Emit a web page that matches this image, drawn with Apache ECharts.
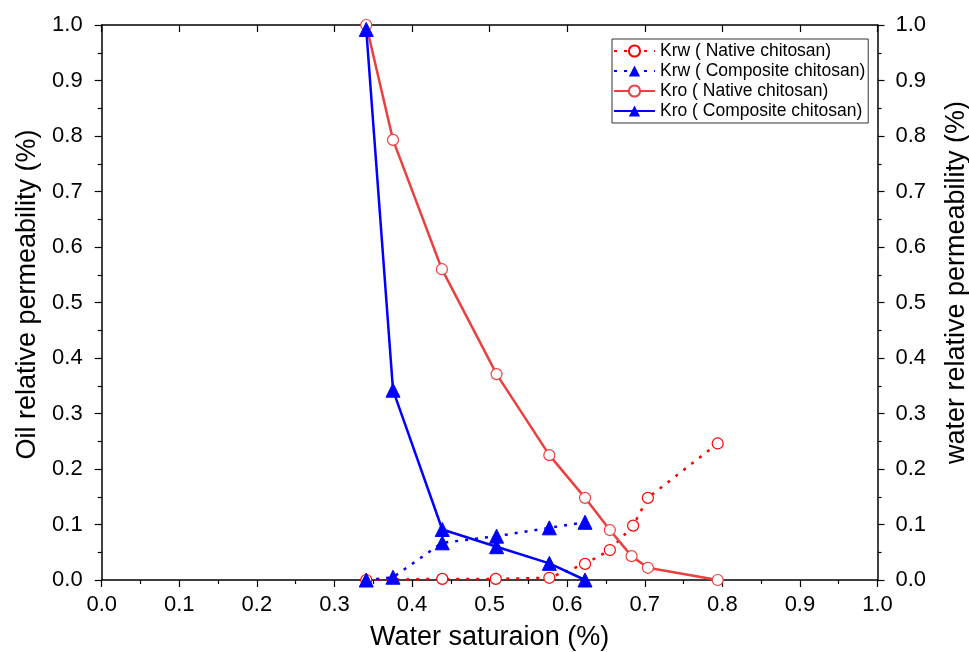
<!DOCTYPE html>
<html><head><meta charset="utf-8">
<script src="https://cdn.jsdelivr.net/npm/echarts@6/dist/echarts.min.js"></script>
<style>html,body{margin:0;padding:0;background:#fff}#c{width:969px;height:652px}</style>
</head><body><div id="c"></div>
<script>
const swNative = [0.341, 0.3755, 0.4385, 0.509, 0.577, 0.623, 0.655, 0.683, 0.704, 0.794];
const kroNative = [1.0, 0.793, 0.560, 0.371, 0.225, 0.148, 0.090, 0.043, 0.022, 0.0];
const swKrwNative = [0.341, 0.439, 0.508, 0.577, 0.623, 0.655, 0.685, 0.704, 0.794];
const krwNative = [0.0, 0.002, 0.002, 0.004, 0.029, 0.054, 0.098, 0.148, 0.246];
const swComposite = [0.341, 0.3755, 0.439, 0.509, 0.577, 0.623];
const kroComposite = [0.992, 0.342, 0.091, 0.060, 0.030, 0.0];
const krwComposite = [0.0, 0.005, 0.067, 0.079, 0.094, 0.104];
const seriesNames = ['Krw ( Native chitosan)', 'Krw ( Composite chitosan)', 'Kro ( Native chitosan)', 'Kro ( Composite chitosan)'];
const xTitle = 'Water saturaion (%)';
const yLeftTitle = 'Oil relative permeability (%)';
const yRightTitle = 'water relative permeability (%)';

const pairs = (xs, ys) => xs.map((x, i) => [x, ys[i]]);
const FONT = 'Liberation Sans, Arial, sans-serif';
const axisCommon = {
  type: 'value', min: 0, max: 1, interval: 0.1,
  axisLine: { show: true, onZero: false, lineStyle: { color: '#000', width: 1.5 } },
  splitLine: { show: false },
  minorTick: { show: true, splitNumber: 2, length: 4, lineStyle: { color: '#000', width: 1.2 } },
  axisTick: { show: true, length: 7, lineStyle: { color: '#000', width: 1.2 } },
  axisLabel: { color: '#000', fontFamily: FONT, fontSize: 22, formatter: v => v.toFixed(1) },
  nameTextStyle: { color: '#000', fontFamily: FONT, fontSize: 27 }
};
const red = '#ff0000', redSolid = '#ee3f3f', blue = '#0000ff';
const chart = echarts.init(document.getElementById('c'));
chart.setOption({
  animation: false,
  grid: { left: 101.7, right: 91.5, top: 25, bottom: 72, containLabel: false, outerBoundsMode: 'none' },
  legend: {
    data: seriesNames, orient: 'vertical', left: 612, top: 39,
    itemWidth: 41, itemHeight: 14, itemGap: 2, padding: [3, 3, 3, 1],
    borderColor: '#333', borderWidth: 1, backgroundColor: '#fff',
    textStyle: { color: '#000', fontFamily: FONT, fontSize: 17.5 }
  },
  xAxis: [
    Object.assign({}, axisCommon, {
      position: 'bottom', name: xTitle, nameLocation: 'middle', nameGap: 44,
      axisLabel: Object.assign({}, axisCommon.axisLabel, { margin: 14 })
    }),
    Object.assign({}, axisCommon, {
      position: 'top', axisLabel: { show: false },
      axisTick: Object.assign({}, axisCommon.axisTick, { inside: true }),
      minorTick: Object.assign({}, axisCommon.minorTick, { show: false })
    })
  ],
  yAxis: [
    Object.assign({}, axisCommon, {
      position: 'left', name: yLeftTitle, nameLocation: 'middle', nameGap: 60,
      nameTextStyle: Object.assign({}, axisCommon.nameTextStyle, { padding: [0, 0, 0, 16] }),
      axisLabel: Object.assign({}, axisCommon.axisLabel, { margin: 19 })
    }),
    Object.assign({}, axisCommon, {
      position: 'right', name: yRightTitle, nameLocation: 'middle', nameGap: 66,
      nameTextStyle: Object.assign({}, axisCommon.nameTextStyle, { padding: [0, 0, 0, 40] }),
      axisLabel: Object.assign({}, axisCommon.axisLabel, { margin: 18 })
    })
  ],
  series: [
    { name: seriesNames[0], type: 'line', yAxisIndex: 1, data: pairs(swKrwNative, krwNative),
      symbol: 'circle', symbolSize: 11, showAllSymbol: true, z: 3,
      lineStyle: { color: red, width: 2.5, type: [3, 7] },
      itemStyle: { color: '#fff', borderColor: red, borderWidth: 1.2 } },
    { name: seriesNames[1], type: 'line', yAxisIndex: 1, data: pairs(swComposite, krwComposite),
      symbol: 'triangle', symbolSize: 14, showAllSymbol: true, z: 4,
      lineStyle: { color: blue, width: 2.5, type: [3, 7] },
      itemStyle: { color: blue, borderColor: blue } },
    { name: seriesNames[2], type: 'line', data: pairs(swNative, kroNative),
      symbol: 'circle', symbolSize: 11, showAllSymbol: true, z: 3,
      lineStyle: { color: redSolid, width: 2.5 },
      itemStyle: { color: '#fff', borderColor: redSolid, borderWidth: 1.2 } },
    { name: seriesNames[3], type: 'line', data: pairs(swComposite, kroComposite),
      symbol: 'triangle', symbolSize: 14, showAllSymbol: true, z: 4,
      lineStyle: { color: blue, width: 2.5 },
      itemStyle: { color: blue, borderColor: blue } }
  ]
});
</script></body></html>
